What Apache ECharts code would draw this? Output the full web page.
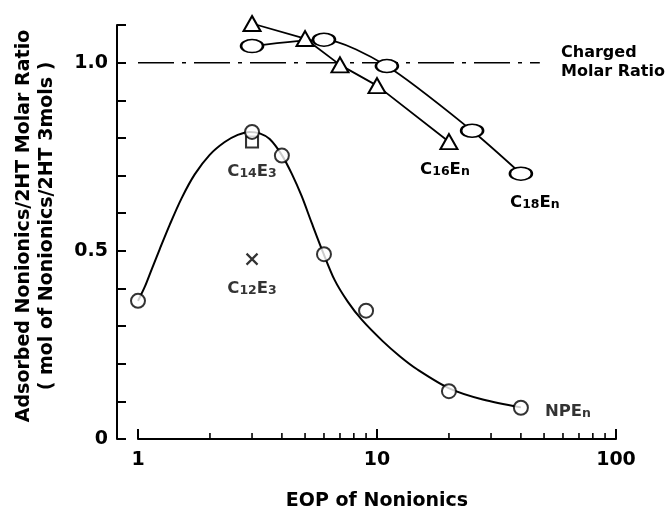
<!DOCTYPE html>
<html>
<head>
<meta charset="utf-8">
<script src="https://cdn.jsdelivr.net/npm/echarts@6/dist/echarts.min.js"></script>
<style>
html,body{margin:0;padding:0;background:#fff;}
#chart{width:669px;height:516px;}
</style>
</head>
<body>
<div id="chart"></div>
<script>
// ---- data ----
// NPEn measured points
const npeX = [1, 3, 4, 6, 9, 20, 40];
const npeY = [0.367, 0.816, 0.753, 0.491, 0.341, 0.127, 0.083];
// NPEn hand-drawn fitted curve
const npeCurveX = [1.0, 1.067, 1.141, 1.232, 1.357, 1.523, 1.727, 1.995, 2.306, 2.614, 2.934, 3.231, 3.556, 3.994, 4.397, 4.841, 5.331, 5.928, 6.653, 7.542, 8.629, 10.56, 12.45, 14.66, 20.15, 27.7, 40];
const npeCurveY = [0.367, 0.404, 0.451, 0.504, 0.569, 0.640, 0.703, 0.755, 0.789, 0.808, 0.816, 0.812, 0.797, 0.755, 0.705, 0.645, 0.574, 0.498, 0.422, 0.365, 0.317, 0.260, 0.220, 0.186, 0.134, 0.105, 0.084];
// C16En (triangles)
const c16X = [3, 5, 7, 10, 20];
const c16Y = [1.104, 1.064, 0.994, 0.939, 0.790];
// C18En (ellipses)
const c18X = [3, 6, 11, 25, 40];
const c18Y = [1.044, 1.061, 0.991, 0.819, 0.705];
// C14E3 (square) and C12E3 (cross)
const c14X = [3];
const c14Y = [0.789];
const c12X = [3];
const c12Y = [0.478];
// Charged molar ratio reference line
const chargedX = [1, 48];
const chargedY = [1.0, 1.0];
// axis ticks / labels
const xLabelValues = [1, 10, 100];
const xLabelTexts = ['1', '10', '100'];
const xMinorTicks = [2, 3, 4, 5, 6, 7, 8, 9, 20, 30, 40, 50, 60, 70, 80, 90];
const yLabelValues = [0, 0.5, 1.0];
const yLabelTexts = ['0', '0.5', '1.0'];

const FONT = 'DejaVu Sans';
const zip = (xs, ys) => xs.map((x, i) => [x, ys[i]]);
const rich = {
  a: {fontFamily: FONT, fontWeight: 'bold', fontSize: 16.5, color: '#000', verticalAlign: 'bottom', lineHeight: 18},
  b: {fontFamily: FONT, fontWeight: 'bold', fontSize: 12.5, color: '#000', verticalAlign: 'bottom', lineHeight: 18}
};
function lastLabel(xs, ys, text, opts) {
  const d = zip(xs, ys);
  return d.map((p, i) => i === d.length - 1 ? {
    value: p,
    label: Object.assign({show: true, formatter: text, rich: rich, color: '#000'}, opts)
  } : p);
}

const chart = echarts.init(document.getElementById('chart'), null, {renderer: 'canvas'});
const option = {
  animation: false,
  backgroundColor: '#fff',
  grid: {left: 138, right: 53, top: 25, bottom: 72},
  xAxis: {
    type: 'log', logBase: 10, min: 1, max: 100,
    name: 'EOP of Nonionics', nameLocation: 'middle', nameGap: 53,
    nameTextStyle: {fontFamily: FONT, fontWeight: 'bold', fontSize: 19, color: '#000'},
    axisLine: {lineStyle: {color: '#000', width: 2}},
    axisTick: {inside: true, length: 10, lineStyle: {color: '#000', width: 2}},
    axisLabel: {
      fontFamily: FONT, fontWeight: 'bold', fontSize: 19, color: '#000', margin: 12,
      formatter: v => { const i = xLabelValues.findIndex(t => Math.abs(t - v) < 1e-6 * t); return i >= 0 ? xLabelTexts[i] : ''; }
    },
    splitLine: {show: false}
  },
  yAxis: {
    type: 'value', min: 0, max: 1.1, interval: 0.1, offset: 21,
    name: 'Adsorbed Nonionics/2HT Molar Ratio\n( mol of Nonionics/2HT 3mols )',
    nameLocation: 'middle', nameGap: 59,
    nameTextStyle: {fontFamily: FONT, fontWeight: 'bold', fontSize: 19, color: '#000', lineHeight: 22.5, align: 'center', padding: [0, 0, 0, 12]},
    axisLine: {show: true, lineStyle: {color: '#000', width: 2}},
    axisTick: {show: true, inside: true, length: 9, lineStyle: {color: '#000', width: 2}},
    axisLabel: {
      fontFamily: FONT, fontWeight: 'bold', fontSize: 19, color: '#000', margin: 9,
      formatter: v => { const i = yLabelValues.findIndex(t => Math.abs(t - v) < 1e-6); return i >= 0 ? yLabelTexts[i] : ''; }
    },
    splitLine: {show: false}
  },
  graphic: [
    {type: 'text', left: 561, top: 44, style: {text: 'Charged\nMolar Ratio', font: 'bold 16px "DejaVu Sans"', fill: '#000', lineHeight: 18.5}}
  ],
  series: [
    {
      type: 'custom', name: 'minor ticks', silent: true, clip: false, z: 5,
      data: xMinorTicks.map(v => [v, 0]),
      renderItem: (params, api) => {
        const p = api.coord([api.value(0), 0]);
        return {type: 'line', shape: {x1: p[0], y1: p[1], x2: p[0], y2: p[1] - 6}, style: {stroke: '#000', lineWidth: 1.6}};
      }
    },
    {
      type: 'line', name: 'Charged Molar Ratio', data: zip(chargedX, chargedY), showSymbol: false, symbol: 'none',
      lineStyle: {color: '#000', width: 1.5, type: [36, 8, 4, 8]}, z: 1
    },
    {
      type: 'line', name: 'NPEn curve', data: zip(npeCurveX, npeCurveY), smooth: 0.3, showSymbol: false, symbol: 'none',
      lineStyle: {color: '#000', width: 2}, z: 2
    },
    {
      type: 'scatter', name: 'NPEn', symbol: 'circle', symbolSize: 14, z: 4, clip: false,
      itemStyle: {color: '#fff', borderColor: '#000', borderWidth: 2},
      data: lastLabel(npeX, npeY, '{a|NP}{a|E}{b|n}', {position: 'right', distance: 16, offset: [0, 3]})
    },
    {
      type: 'line', name: 'C16En', symbol: 'triangle', symbolSize: [17, 15], showAllSymbol: true, z: 3, clip: false,
      lineStyle: {color: '#000', width: 1.8},
      itemStyle: {color: '#fff', borderColor: '#000', borderWidth: 2},
      data: lastLabel(c16X, c16Y, '{a|C}{b|16}{a|E}{b|n}', {position: 'bottom', distance: 10, offset: [-4, 0]})
    },
    {
      type: 'line', name: 'C18En', symbol: 'circle', symbolSize: [22, 13], showAllSymbol: true, smooth: 0.25, z: 3, clip: false,
      lineStyle: {color: '#000', width: 1.8},
      itemStyle: {color: '#fff', borderColor: '#000', borderWidth: 2},
      data: lastLabel(c18X, c18Y, '{a|C}{b|18}{a|E}{b|n}', {position: 'bottom', distance: 12, offset: [14, 0]})
    },
    {
      type: 'scatter', name: 'C14E3', symbol: 'rect', symbolSize: [12, 11], z: 3,
      itemStyle: {color: '#fff', borderColor: '#000', borderWidth: 2},
      data: lastLabel(c14X, c14Y, '{a|C}{b|14}{a|E}{b|3}', {position: 'bottom', distance: 14})
    },
    {
      type: 'scatter', name: 'C12E3', symbol: 'path://M0,0L10,10M10,0L0,10', symbolSize: 11, z: 3,
      itemStyle: {color: '#000', borderColor: '#000', borderWidth: 2.2},
      data: lastLabel(c12X, c12Y, '{a|C}{b|12}{a|E}{b|3}', {position: 'bottom', distance: 14})
    }
  ]
};
chart.setOption(option);
</script>
</body>
</html>
